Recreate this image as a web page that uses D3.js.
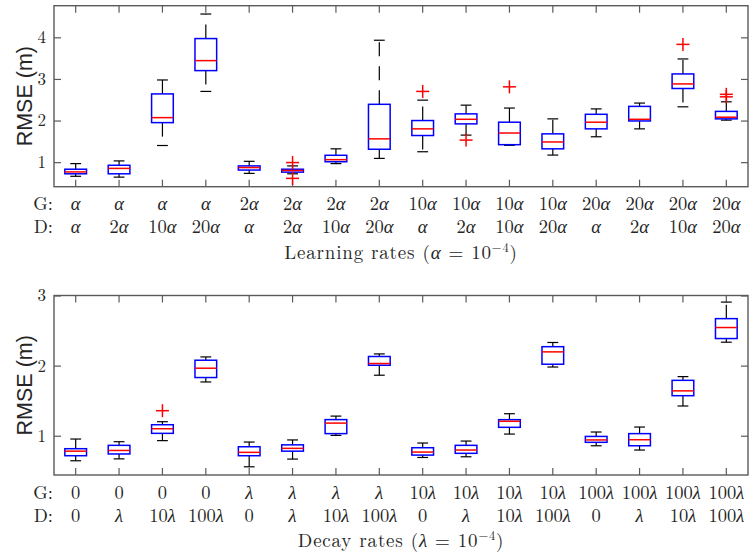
<!DOCTYPE html>
<html>
<head>
<meta charset="utf-8">
<script src="https://cdn.jsdelivr.net/npm/d3@7"></script>
<style>
  body { margin: 0; background: #fff; }
  svg { display: block; }
  .lbl { font-family: "Latin Modern Roman", "CMU Serif", "Liberation Serif", serif; fill: #262626; }
</style>
</head>
<body>
<div id="chart"></div>
<script>
// top panel: learning rates
var lrG = ["α","α","α","α","2α","2α","2α","2α","10α","10α","10α","10α","20α","20α","20α","20α"];
var lrD = ["α","2α","10α","20α","α","2α","10α","20α","α","2α","10α","20α","α","2α","10α","20α"];
var lrLow  = [0.66, 0.64, 1.40, 2.70, 0.73, 0.72, 0.965, 1.09, 1.25, 1.65, 1.405, 1.17, 1.61, 1.80, 2.33, 2.01];
var lrQ1   = [0.72, 0.72, 1.95, 3.20, 0.81, 0.76, 1.01, 1.31, 1.64, 1.92, 1.42, 1.32, 1.80, 1.99, 2.77, 2.04];
var lrMed  = [0.765, 0.85, 2.07, 3.44, 0.87, 0.80, 1.06, 1.56, 1.80, 2.03, 1.70, 1.485, 1.96, 2.03, 2.88, 2.08];
var lrQ3   = [0.83, 0.925, 2.64, 3.97, 0.91, 0.83, 1.165, 2.39, 2.00, 2.16, 1.96, 1.68, 2.15, 2.34, 3.12, 2.22];
var lrHigh = [0.965, 1.03, 2.975, 4.56, 1.02, 0.91, 1.32, 3.93, 2.49, 2.37, 2.30, 2.04, 2.28, 2.42, 3.48, 2.45];
var lrOut  = [[], [], [], [], [], [0.61, 0.99], [], [], [2.70], [1.53], [2.81], [], [], [], [3.83], [2.57, 2.63]];
var lrTicks = [1, 2, 3, 4];

// bottom panel: decay rates
var dcG = ["0","0","0","0","λ","λ","λ","λ","10λ","10λ","10λ","10λ","100λ","100λ","100λ","100λ"];
var dcD = ["0","λ","10λ","100λ","0","λ","10λ","100λ","0","λ","10λ","100λ","0","λ","10λ","100λ"];
var dcLow  = [0.643, 0.67, 0.93, 1.767, 0.557, 0.667, 1.005, 1.863, 0.69, 0.70, 1.024, 1.98, 0.857, 0.796, 1.424, 2.334];
var dcQ1   = [0.715, 0.74, 1.034, 1.83, 0.715, 0.78, 1.03, 2.005, 0.724, 0.749, 1.12, 2.02, 0.906, 0.857, 1.571, 2.386];
var dcMed  = [0.78, 0.79, 1.10, 1.963, 0.763, 0.82, 1.18, 2.03, 0.767, 0.796, 1.206, 2.196, 0.94, 0.943, 1.64, 2.543];
var dcQ3   = [0.815, 0.863, 1.157, 2.077, 0.843, 0.87, 1.23, 2.13, 0.829, 0.863, 1.229, 2.27, 0.99, 1.03, 1.79, 2.67];
var dcHigh = [0.953, 0.915, 1.20, 2.124, 0.91, 0.94, 1.28, 2.167, 0.896, 0.924, 1.314, 2.33, 1.053, 1.124, 1.843, 2.906];
var dcOut  = [[], [], [1.357], [], [], [], [], [], [], [], [], [], [], [], [], []];
var dcTicks = [1, 2, 3];

var W = 749, H = 558;
var svg = d3.select("#chart").append("svg").attr("width", W).attr("height", H);

function richText(sel, s) {
  // split "10α" into the number part and an italic greek letter
  var m = s.match(/^([0-9]*)([^0-9]*)$/);
  if (m[1]) sel.append("tspan").text(m[1]);
  if (m[2]) sel.append("tspan").attr("font-style", "italic").text(m[2]);
}

function panel(opt) {
  var left = 54, right = 748;
  var x = d3.scaleBand().domain(d3.range(opt.g.length)).range([left, right]);
  var y = d3.scaleLinear().domain(opt.domain).range([opt.bottom, opt.top]);
  var bw = x.bandwidth();
  var cx = function (i) { return x(i) + bw / 2; };

  var g = svg.append("g");

  // frame + ticks
  var axisCol = "#5a5a5a";
  var ax = [
    g.append("g").attr("transform", "translate(" + left + ",0)")
      .call(d3.axisLeft(y).tickValues(opt.ticks).tickSizeInner(-7).tickSizeOuter(0).tickPadding(8).tickFormat(d3.format("d"))),
    g.append("g").attr("transform", "translate(" + right + ",0)")
      .call(d3.axisRight(y).tickValues(opt.ticks).tickSizeInner(-7).tickSizeOuter(0).tickFormat("")),
    g.append("g").attr("transform", "translate(0," + opt.bottom + ")")
      .call(d3.axisBottom(x).tickSizeInner(-7).tickSizeOuter(0).tickFormat("")),
    g.append("g").attr("transform", "translate(0," + opt.top + ")")
      .call(d3.axisTop(x).tickSizeInner(-7).tickSizeOuter(0).tickFormat(""))
  ];
  ax.forEach(function (a) {
    a.select(".domain").remove();
    a.selectAll("line").attr("stroke", axisCol).attr("stroke-width", 1.2);
    a.selectAll("text").attr("class", "lbl").attr("font-size", 17).attr("fill", "#262626");
  });
  g.append("rect")
    .attr("x", left).attr("y", opt.top)
    .attr("width", right - left).attr("height", opt.bottom - opt.top)
    .attr("fill", "none").attr("stroke", axisCol).attr("stroke-width", 1.4);

  var idx = d3.range(opt.g.length);

  // whiskers (dashed, drawn from the box outwards)
  g.selectAll(".wu").data(idx).enter().append("line")
    .attr("x1", cx).attr("x2", cx)
    .attr("y1", function (i) { return y(opt.q3[i]); })
    .attr("y2", function (i) { return y(opt.high[i]); })
    .attr("stroke", "#000").attr("stroke-width", 1.2).attr("stroke-dasharray", "14,10");
  g.selectAll(".wl").data(idx).enter().append("line")
    .attr("x1", cx).attr("x2", cx)
    .attr("y1", function (i) { return y(opt.q1[i]); })
    .attr("y2", function (i) { return y(opt.low[i]); })
    .attr("stroke", "#000").attr("stroke-width", 1.2).attr("stroke-dasharray", "14,10");

  // caps
  [opt.high, opt.low].forEach(function (arr) {
    g.selectAll(null).data(idx).enter().append("line")
      .attr("x1", function (i) { return cx(i) - bw * 0.125; })
      .attr("x2", function (i) { return cx(i) + bw * 0.125; })
      .attr("y1", function (i) { return y(arr[i]); })
      .attr("y2", function (i) { return y(arr[i]); })
      .attr("stroke", "#000").attr("stroke-width", 1.2);
  });

  // boxes
  g.selectAll(".box").data(idx).enter().append("rect")
    .attr("x", function (i) { return cx(i) - bw * 0.25; })
    .attr("width", bw * 0.5)
    .attr("y", function (i) { return y(opt.q3[i]); })
    .attr("height", function (i) { return y(opt.q1[i]) - y(opt.q3[i]); })
    .attr("fill", "none").attr("stroke", "#0000ff").attr("stroke-width", 1.5);

  // medians
  g.selectAll(".med").data(idx).enter().append("line")
    .attr("x1", function (i) { return cx(i) - bw * 0.25; })
    .attr("x2", function (i) { return cx(i) + bw * 0.25; })
    .attr("y1", function (i) { return y(opt.med[i]); })
    .attr("y2", function (i) { return y(opt.med[i]); })
    .attr("stroke", "#ff0000").attr("stroke-width", 1.5);

  // outliers
  var pts = [];
  opt.out.forEach(function (o, i) { o.forEach(function (v) { pts.push({ i: i, v: v }); }); });
  var s = 6.5;
  var pg = g.selectAll(".out").data(pts).enter().append("g")
    .attr("transform", function (d) { return "translate(" + cx(d.i) + "," + y(d.v) + ")"; });
  pg.append("line").attr("x1", -s).attr("x2", s).attr("stroke", "#ff0000").attr("stroke-width", 1.5);
  pg.append("line").attr("y1", -s).attr("y2", s).attr("stroke", "#ff0000").attr("stroke-width", 1.5);

  // category labels (two rows)
  [[opt.g, "G:", opt.rowY[0]], [opt.d, "D:", opt.rowY[1]]].forEach(function (row) {
    g.append("text").attr("class", "lbl").attr("font-size", 18.5)
      .attr("x", 53).attr("y", row[2]).attr("text-anchor", "end").text(row[1]);
    row[0].forEach(function (lab, i) {
      var t = g.append("text").attr("class", "lbl").attr("font-size", 18.5)
        .attr("x", cx(i)).attr("y", row[2]).attr("text-anchor", "middle");
      richText(t, lab);
    });
  });

  // x title
  var tt = g.append("text").attr("class", "lbl").attr("font-size", 19)
    .attr("letter-spacing", 0.8)
    .attr("x", (left + right) / 2).attr("y", opt.titleY).attr("text-anchor", "middle");
  tt.append("tspan").text(opt.title + " (");
  tt.append("tspan").attr("font-style", "italic").text(opt.sym);
  tt.append("tspan").text(" = 10");
  tt.append("tspan").attr("font-size", 12.5).attr("dy", -7).text("−4");
  tt.append("tspan").attr("dy", 7).text(")");

  // y title
  g.append("text")
    .attr("transform", "translate(32," + (opt.top + opt.bottom) / 2 + ") rotate(-90)")
    .attr("text-anchor", "middle")
    .attr("font-family", "'Liberation Sans', Arial, sans-serif")
    .attr("font-size", 21.5).attr("fill", "#262626")
    .text("RMSE (m)");
}

panel({
  g: lrG, d: lrD, low: lrLow, q1: lrQ1, med: lrMed, q3: lrQ3, high: lrHigh, out: lrOut,
  ticks: lrTicks, domain: [0.41, 4.76], top: 5.7, bottom: 186.7,
  rowY: [209.5, 233], titleY: 258.5, title: "Learning rates", sym: "α"
});

panel({
  g: dcG, d: dcD, low: dcLow, q1: dcQ1, med: dcMed, q3: dcQ3, high: dcHigh, out: dcOut,
  ticks: dcTicks, domain: [0.44, 3.0], top: 295.5, bottom: 475,
  rowY: [498.5, 522], titleY: 546.5, title: "Decay rates", sym: "λ"
});
</script>
</body>
</html>
